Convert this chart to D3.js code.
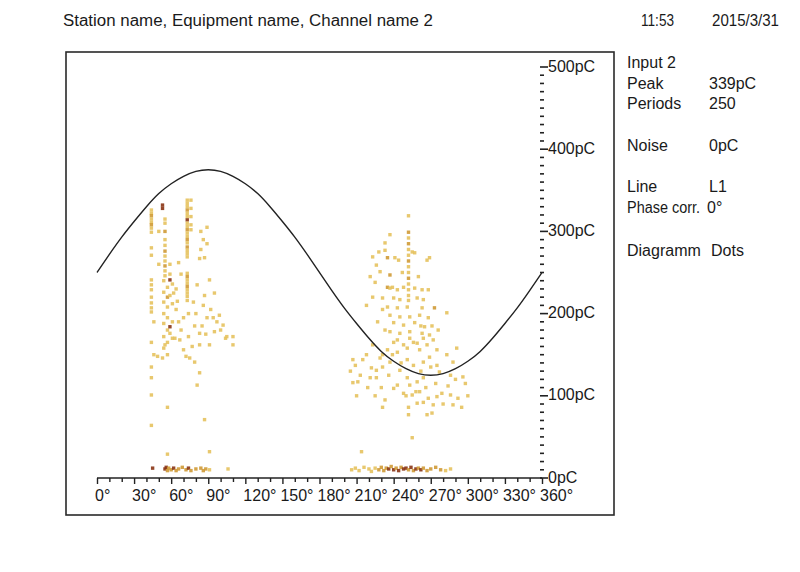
<!DOCTYPE html>
<html><head><meta charset="utf-8">
<script src="https://cdn.jsdelivr.net/npm/d3@7/dist/d3.min.js"></script>
<style>
html,body{margin:0;padding:0;background:#fff;}
text{font-family:"Liberation Sans",Arial,sans-serif;font-size:16px;fill:#1a1a1a;}
</style></head>
<body><svg id="c" width="800" height="572"></svg>
<script>
// ---------- data ----------
const titleText = "Station name, Equipment name, Channel name 2";
const timeText = "11:53";
const dateText = "2015/3/31";
const infoLabels = ["Input 2","Peak","Periods","Noise","Line","Phase corr.","Diagramm"];
const infoValues = ["","339pC","250","0pC","L1","0°","Dots"];
const phaseTicks = [0,30,60,90,120,150,180,210,240,270,300,330,360];
const chargeTicks = [0,100,200,300,400,500];
// reference sine read at every 10°
const curvePhase = [0,10,20,30,40,50,60,70,80,90,100,110,120,130,140,150,160,170,180,190,200,210,220,230,240,250,260,270,280,290,300,310,320,330,340,350,360];
const curveCharge = [250,272,293,312,330,346,358,367,373,375,373,367,358,346,330,312,293,272,250,228,207,188,170,154,142,133,127,125,127,133,142,154,170,188,207,228,250];
// PD dots: phase (deg), charge (pC), count level (1 light .. 3 dense)
const dotPhase = [
 44,44,44,44,44,44,44,44,44,44,44,44,44,44,44,44,44,44,44,44,44,44,
 46,46,53,53,
 55,55,55,55,55,55,55,55,55,55,55,
 54,54,54,54,54,54,54,
 57,57,57,57,57,57,57,
 59,59,59,59,59,59,
 61,61,61,61,
 73,73,73,73,73,73,73,73,73,73,73,73,73,73,73,73,73,73,73,73,73,73,73,73,73,73,73,
 76,76,76,76,76,
 74,74,78,81,81,83,83,83,84,84,86,86,87,87,87,89,89,89,91,91,91,94,95,95,99,102,104,105,110,110,
 49,53,55,67,70,72,75,79,83,57,57,
 64,66,68,63,70,65,62,79,80,77,85,92,97,88,68,66,64,50,50,100,
 45,55,56,57,58,60,62,64,66,69,72,74,76,80,84,86,88,91,106,
 // cluster 2
 252,252,252,252,252,252,252,252,252,252,252,252,252,252,
 237,233,233,223,235,241,255,257,267,269,226,237,229,225,235,237,239,243,248,257,263,268,
 223,231,240,245,259,264,235,243,251,263,273,283,237,245,253,261,268,240,248,257,265,237,245,253,263,269,
 207,215,209,222,226,231,229,235,223,240,243,251,256,261,267,269,275,283,288,291,286,296,277,221,207,211,226,251,259,264,
 243,253,240,248,255,261,268,275,279,286,292,264,259,272,288,295,231,252,252,267,271,255,214,
 243,248,253,259,264,272,251,256,264,275,245,237,231,
 218,213,219,225,230,233,236,239,246,250,258,262,266,270,274,280,284,290,300,298,210,205,227,231,233,247,244,260,262,271,276,228,221,218,
 206,209,212,216,220,222,225,228,230,232,234,236,238,240,242,244,246,248,250,252,254,256,258,260,262,264,267,270,274,278,282,286
];
const dotCharge = [
 326,322,319,315,311,308,304,299,280,271,241,235,229,220,213,207,202,165,135,122,101,64,
 190,150,332,328,
 315,310,300,290,283,276,270,264,258,252,246,
 240,226,214,200,188,172,158,
 232,220,208,195,180,165,150,
 260,248,241,222,184,176,
 236,212,190,170,
 338,334,330,326,322,318,314,310,306,302,298,294,290,286,281,277,273,269,249,245,241,237,233,229,225,221,216,
 338,328,318,308,302,
 172,200,214,235,113,267,176,128,300,278,290,210,268,222,71,305,285,195,241,162,32,195,225,178,198,186,170,172,172,162,
 148,146,162,168,156,148,146,141,162,86,29,
 205,190,180,170,195,215,225,185,200,160,185,205,190,175,248,262,230,300,260,180,
 12,11,13,9,12,10,12,9,11,13,10,12,9,11,12,9,11,10,11,
 319,299,292,285,278,271,264,257,250,243,236,229,222,216,
 296,286,277,269,268,268,275,274,265,268,259,247,251,238,232,231,232,229,232,231,229,229,
 220,219,219,217,219,217,208,207,208,207,207,201,198,196,196,198,195,189,186,189,184,178,176,178,176,174,
 144,144,137,134,131,135,146,156,162,165,153,158,165,156,162,147,156,150,141,158,125,123,129,122,116,117,122,122,117,122,
 113,113,109,103,101,105,97,99,103,101,97,92,91,89,89,86,86,86,77,77,79,49,32,
 168,162,170,164,170,168,144,137,141,137,131,141,150,
 150,125,110,100,110,95,125,150,140,100,105,130,110,135,115,90,112,120,100,115,100,130,190,205,180,250,265,245,185,185,180,275,245,210,
 10,12,9,13,11,8,12,10,13,9,12,11,14,10,12,9,13,11,12,10,13,9,11,12,10,12,9,11,13,10,9,11
];
const dotCount = [
 1,1,2,1,1,2,1,1,1,1,1,1,1,1,1,1,1,1,1,1,1,1,
 1,1,3,3,
 1,1,2,1,1,2,1,1,2,1,1,
 1,1,1,1,1,1,1,
 1,2,1,1,1,1,1,
 1,1,3,1,3,1,
 1,1,1,1,
 1,1,1,2,1,1,3,1,1,2,1,1,2,1,2,1,1,1,1,2,1,1,2,1,1,1,1,
 1,1,1,1,1,
 1,1,1,1,1,1,1,1,1,1,1,1,1,1,1,1,1,1,1,1,1,1,1,1,1,1,1,1,1,1,
 1,1,1,1,1,1,1,1,1,1,1,
 1,1,1,1,1,1,1,1,1,1,1,1,1,1,1,1,1,1,1,1,
 3,3,3,2,2,2,3,2,2,2,2,3,2,2,2,2,2,1,1,
 1,2,1,2,1,1,2,1,1,2,1,1,1,1,
 1,1,1,1,2,1,1,1,1,1,1,2,1,1,2,1,1,1,1,1,1,1,
 1,1,1,1,1,1,1,1,1,1,2,1,1,1,1,1,1,1,1,1,1,1,1,1,1,1,1,1,1,1,
 1,1,1,1,1,1,1,1,1,1,1,1,1,1,1,1,1,1,1,1,1,1,1,1,1,1,1,1,1,1,
 1,1,1,1,1,1,1,1,1,1,1,1,1,1,1,1,1,1,1,1,1,1,1,
 1,1,1,1,1,1,1,1,1,1,1,1,1,
 1,1,1,1,1,1,1,1,1,1,1,1,1,1,1,1,1,1,1,1,1,1,1,1,1,1,1,1,1,1,1,1,1,1,
 1,1,1,2,2,2,2,3,2,3,2,3,2,3,3,2,3,2,3,2,3,2,2,2,2,2,1,1,1,1,1,1
];

// ---------- drawing ----------
const svg = d3.select("#c");
const x = d3.scaleLinear().domain([0,360]).range([97,542]);
const y = d3.scaleLinear().domain([0,500]).range([478,67]);

// frame
svg.append("rect").attr("x",66).attr("y",52).attr("width",548).attr("height",463)
  .attr("fill","none").attr("stroke","#2a2a2a").attr("stroke-width",1.6);

// header
svg.append("text").attr("x",63).attr("y",26).attr("textLength",370).attr("lengthAdjust","spacingAndGlyphs").text(titleText);
svg.append("text").attr("x",641).attr("y",26).attr("textLength",33).attr("lengthAdjust","spacingAndGlyphs").text(timeText);
svg.append("text").attr("x",712).attr("y",26).attr("textLength",67).attr("lengthAdjust","spacingAndGlyphs").text(dateText);

// info panel
const infoY = [68,89,109,151,192,213,256];
const infoValX = [709,709,709,709,709,707,711];
const infoLabLen = [null,null,null,null,null,73,null];
infoLabels.forEach((l,i)=>{
  const t = svg.append("text").attr("x",627).attr("y",infoY[i]).text(l);
  if(infoLabLen[i]) t.attr("textLength",infoLabLen[i]).attr("lengthAdjust","spacingAndGlyphs");
  if(infoValues[i]) svg.append("text").attr("x",infoValX[i]).attr("y",infoY[i]).text(infoValues[i]);
});

// dots
const colors = {1:"#e6c25e",2:"#cf9a36",3:"#8a3414"};
const dots = dotPhase.map((p,i)=>({p, q:dotCharge[i], c:dotCount[i]}));
svg.append("g").selectAll("rect").data(dots).join("rect")
  .attr("x",d=>x(d.p)-1.7).attr("y",d=>y(d.q)-1.7)
  .attr("width",3.4).attr("height",3.4)
  .attr("fill",d=>colors[d.c]).attr("opacity",0.9);

// sine curve
const curve = curvePhase.map((p,i)=>[p,curveCharge[i]]);
svg.append("path").datum(curve)
  .attr("d", d3.line().x(d=>x(d[0])).y(d=>y(d[1])).curve(d3.curveNatural))
  .attr("fill","none").attr("stroke","#222").attr("stroke-width",1.4);

// x axis
const xAxis = d3.axisBottom(x).tickValues(d3.range(0,361,10)).tickSize(4).tickFormat("");
const gx = svg.append("g").attr("transform","translate(0,478)").call(xAxis);
gx.select(".domain").attr("d","M97,0H542").attr("stroke","#222").attr("stroke-width",1.6);
gx.selectAll(".tick line").attr("stroke","#222").attr("stroke-width",1.4)
  .attr("y2",d=>d%30===0?6:4);
svg.append("g").selectAll("text").data(phaseTicks).join("text")
  .attr("x",d=>x(d)-2).attr("y",501).text(d=>d+"°");

// y axis (right, dashes only)
const minor = d3.range(0,501,10);
svg.append("g").selectAll("line").data(minor).join("line")
  .attr("x1",540).attr("x2",d=>d%100===0?548:544)
  .attr("y1",d=>y(d)).attr("y2",d=>y(d))
  .attr("stroke","#222").attr("stroke-width",1.6);
svg.append("g").selectAll("text").data(chargeTicks).join("text")
  .attr("x",548).attr("y",d=>y(d)+4.5).text(d=>d+"pC");
</script></body></html>
